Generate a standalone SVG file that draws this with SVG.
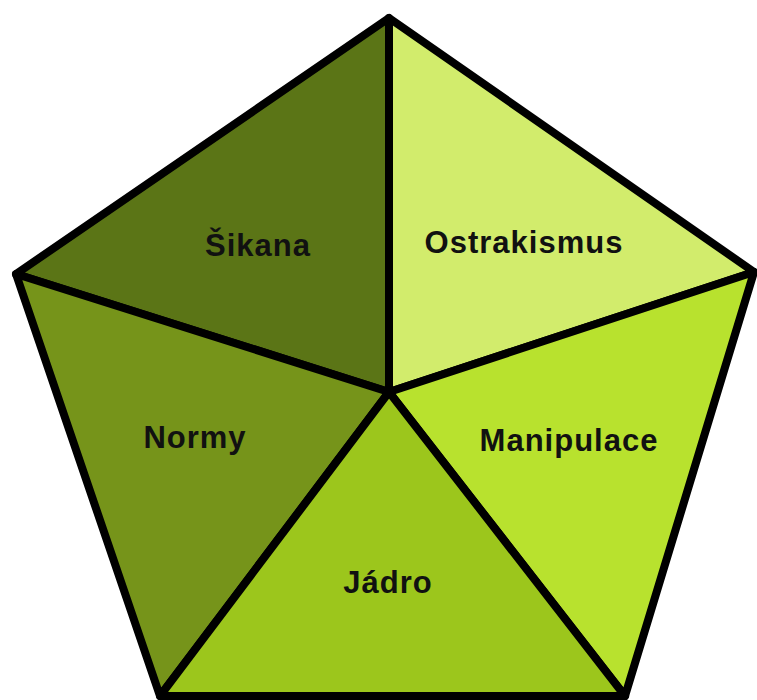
<svg xmlns="http://www.w3.org/2000/svg" width="757" height="700" viewBox="0 0 757 700">
<style>
.seg{stroke:#000;stroke-width:8;stroke-linejoin:round}
.lbl{font-family:"Comic Sans MS","Liberation Sans",sans-serif;font-weight:bold;font-size:31px;letter-spacing:1px;fill:#111;text-anchor:middle}
</style>
<rect width="757" height="700" fill="#fff"/>
<g id="sikana">
<polygon class="seg" points="389,18 389,392 16,274" fill="#5b7516"/>
<text class="lbl" x="258" y="256">Šikana</text>
</g>
<g id="ostrakismus">
<polygon class="seg" points="389,18 754,272 389,392" fill="#d2ec6c"/>
<text class="lbl" x="524" y="253">Ostrakismus</text>
</g>
<g id="normy">
<polygon class="seg" points="16,274 389,392 160,696" fill="#76941a"/>
<text class="lbl" x="195" y="448">Normy</text>
</g>
<g id="manipulace">
<polygon class="seg" points="754,272 625,696 389,392" fill="#b8e22e"/>
<text class="lbl" x="569" y="451">Manipulace</text>
</g>
<g id="jadro">
<polygon class="seg" points="389,392 625,696 160,696" fill="#9cc61c"/>
<text class="lbl" x="388" y="593">Jádro</text>
</g>
<g id="connectors"/>
</svg>
